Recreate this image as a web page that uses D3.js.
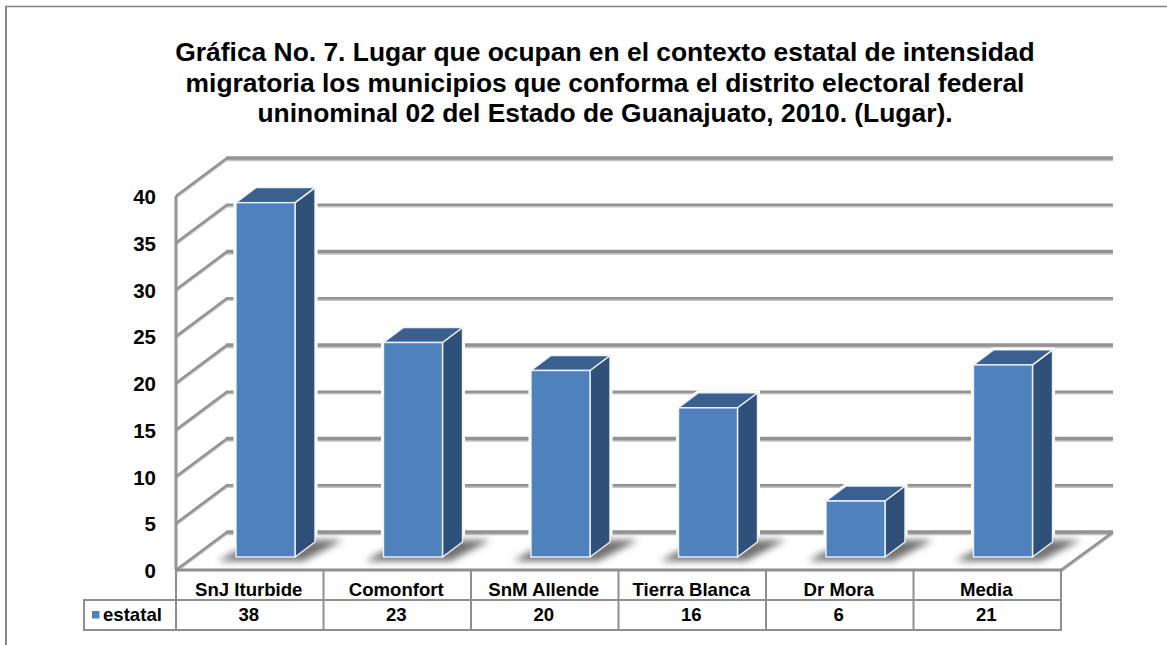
<!DOCTYPE html>
<meta charset="utf-8">
<script src="https://d3js.org/d3.v7.min.js"></script>
<style>
  body { margin: 0; background: #fff; }
  text { font-family: "Liberation Sans", Arial, sans-serif; font-weight: bold; fill: #000; }
</style>
<div id="chart"></div>
<script>
// data
var categories = ["SnJ Iturbide", "Comonfort", "SnM Allende", "Tierra Blanca", "Dr Mora", "Media"];
// Media is the mean of the five municipalities, the table shows it rounded
var values = [38, 23, 20, 16, 6, 20.6];
var yTicks = [0, 5, 10, 15, 20, 25, 30, 35, 40];
var seriesName = "estatal";
var titleLines = [
  "Gráfica No. 7. Lugar que ocupan en el contexto estatal de intensidad",
  "migratoria los municipios que conforma el distrito electoral federal",
  "uninominal 02 del Estado de Guanajuato, 2010. (Lugar)."
];

var width = 1167, height = 645;
var svg = d3.select("#chart").append("svg")
  .attr("width", width).attr("height", height)
  .style("display", "block");

var defs = svg.append("defs");
defs.append("filter").attr("id", "blur").attr("x", "-30%").attr("y", "-100%").attr("width", "160%").attr("height", "300%")
  .append("feGaussianBlur").attr("stdDeviation", 3.5);

// outer frame, only top and left are visible
svg.append("line").attr("x1", 5).attr("x2", 1167).attr("y1", 6.5).attr("y2", 6.5)
  .attr("stroke", "#858585").attr("stroke-width", 1.5);
svg.append("line").attr("x1", 6).attr("x2", 6).attr("y1", 6).attr("y2", 645)
  .attr("stroke", "#858585").attr("stroke-width", 2);

// title
svg.append("g").selectAll("text").data(titleLines).enter().append("text")
  .attr("x", 605)
  .attr("y", function(d, i) { return 61 + i * 30.5; })
  .attr("text-anchor", "middle")
  .style("font-size", "26.4px")
  .text(function(d) { return d; });

// scales: front plane of the plot, the back wall is shifted by depth
var x = d3.scaleBand().domain(categories).range([176, 1061]);
var y = d3.scaleLinear().domain([0, 40]).range([570, 196]);
var depth = {x: 51, y: -38};
var barDepth = {x: 20, y: -15};
var barY = d3.scaleLinear().domain([0, 40]).range([557, 184]);
var barWidth = 59;

var grey = "#939393";
var greyLight = "#c4c4c4";

// walls grid: a light line under each one gives the soft shadow
function drawGrid(color, shift) {
  var grid = svg.append("g").attr("fill", "none").attr("stroke", color)
    .attr("transform", "translate(0," + shift + ")");
  grid.selectAll(".side").data(yTicks).enter().append("line")
    .attr("x1", x.range()[0]).attr("y1", function(d) { return y(d); })
    .attr("x2", x.range()[0] + depth.x).attr("y2", function(d) { return y(d) + depth.y; })
    .attr("stroke-width", 2.5);
  grid.selectAll(".back").data(yTicks).enter().append("line")
    .attr("x1", x.range()[0] + depth.x - 1).attr("y1", function(d) { return y(d) + depth.y; })
    .attr("x2", x.range()[1] + depth.x + 1).attr("y2", function(d) { return y(d) + depth.y; })
    .attr("stroke-width", function(d, i) { return i % 2 ? 2.5 : 3.5; });
  grid.append("line")
    .attr("x1", x.range()[1]).attr("y1", y(0))
    .attr("x2", x.range()[1] + depth.x + 1).attr("y2", y(0) + depth.y)
    .attr("stroke-width", 2.5);
}
drawGrid(greyLight, 1.5);
drawGrid(grey, 0);
svg.append("line")
  .attr("x1", x.range()[0]).attr("y1", y(0)).attr("x2", x.range()[0]).attr("y2", y(40))
  .attr("stroke", grey).attr("stroke-width", 3);

// bars
var bars = svg.append("g").selectAll("g").data(categories).enter().append("g");
function barLeft(d) { return x(d) + 60; }

// white halo that cuts the grid lines around each bar
bars.append("path")
  .attr("d", function(d, i) {
    var l = barLeft(d), r = l + barWidth, b = barY(0), t = barY(values[i]);
    return d3.line()([[l, t], [l + barDepth.x, t + barDepth.y], [r + barDepth.x, t + barDepth.y], [r + barDepth.x, b + barDepth.y], [r, b], [l, b]]) + "Z";
  })
  .attr("fill", "#fff").attr("stroke", "#fff").attr("stroke-width", 5);

// floor shadow
bars.append("path")
  .attr("d", function(d) {
    var l = barLeft(d), r = l + barWidth, b = barY(0);
    return d3.line()([[l - 18, b + 4], [r + 8, b + 4], [r + 48, b - 17], [r + 16, b - 17], [r, b - 6], [l, b - 6]]) + "Z";
  })
  .attr("fill", "#6f6f6f")
  .attr("filter", "url(#blur)");

// side face
bars.append("path")
  .attr("d", function(d, i) {
    var r = barLeft(d) + barWidth, b = barY(0), t = barY(values[i]);
    return d3.line()([[r, t], [r + barDepth.x, t + barDepth.y], [r + barDepth.x, b + barDepth.y], [r, b]]) + "Z";
  })
  .attr("fill", "#2f5079").attr("stroke", "#eef2f7").attr("stroke-width", 1.4).attr("stroke-linejoin", "round");
// top face
bars.append("path")
  .attr("d", function(d, i) {
    var l = barLeft(d), t = barY(values[i]);
    return d3.line()([[l, t], [l + barDepth.x, t + barDepth.y], [l + barWidth + barDepth.x, t + barDepth.y], [l + barWidth, t]]) + "Z";
  })
  .attr("fill", "#3a6090").attr("stroke", "#eef2f7").attr("stroke-width", 1.4).attr("stroke-linejoin", "round");
// front face
bars.append("rect")
  .attr("x", barLeft)
  .attr("y", function(d, i) { return barY(values[i]); })
  .attr("width", barWidth)
  .attr("height", function(d, i) { return barY(0) - barY(values[i]); })
  .attr("fill", "#4f81bd").attr("stroke", "#eef2f7").attr("stroke-width", 1.4);

// y tick labels
svg.append("g").selectAll("text").data(yTicks).enter().append("text")
  .attr("x", 156).attr("y", function(d) { return y(d) + 8; })
  .attr("text-anchor", "end")
  .style("font-size", "20.5px")
  .text(function(d) { return d; });

// data table under the chart
var table = svg.append("g").attr("fill", "none").attr("stroke", "#8f8f8f").attr("stroke-width", 2);
var rows = [570, 600, 630];
table.append("line").attr("x1", x.range()[0]).attr("x2", x.range()[1]).attr("y1", rows[0]).attr("y2", rows[0]).attr("stroke-width", 3);
table.append("line").attr("x1", 84).attr("x2", x.range()[1]).attr("y1", rows[1]).attr("y2", rows[1]);
table.append("line").attr("x1", 84).attr("x2", x.range()[1]).attr("y1", rows[2]).attr("y2", rows[2]);
table.append("line").attr("x1", 84).attr("x2", 84).attr("y1", rows[1] - 1).attr("y2", rows[2] + 1);
table.selectAll(".col").data(categories).enter().append("line")
  .attr("x1", function(d) { return x(d); }).attr("x2", function(d) { return x(d); })
  .attr("y1", rows[0]).attr("y2", rows[2]);
table.append("line").attr("x1", x.range()[1]).attr("x2", x.range()[1]).attr("y1", rows[0]).attr("y2", rows[2] + 1);

svg.append("g").selectAll("text").data(categories).enter().append("text")
  .attr("x", function(d) { return x(d) + x.bandwidth() / 2 - 1; })
  .attr("y", 596)
  .attr("text-anchor", "middle").style("font-size", "18.6px")
  .text(function(d) { return d; });
svg.append("g").selectAll("text").data(values).enter().append("text")
  .attr("x", function(d, i) { return x(categories[i]) + x.bandwidth() / 2 - 1; })
  .attr("y", 621)
  .attr("text-anchor", "middle").style("font-size", "18.6px")
  .text(function(d) { return d3.format(".0f")(d); });

// legend key
svg.append("rect").attr("x", 92).attr("y", 611).attr("width", 7.5).attr("height", 7.5).attr("fill", "#4f81bd");
svg.append("text").attr("x", 103).attr("y", 621).style("font-size", "18.6px").text(seriesName);
</script>
